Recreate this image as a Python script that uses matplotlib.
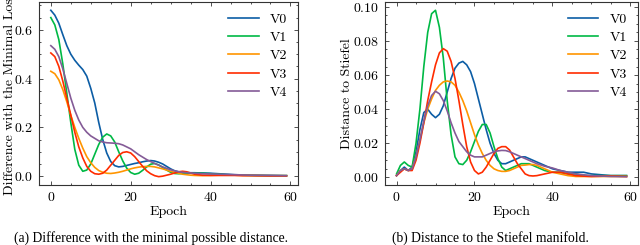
import matplotlib
matplotlib.use("Agg")
import matplotlib.pyplot as plt
from matplotlib.ticker import AutoMinorLocator

epochs = list(range(37)) + [38, 40, 42, 44, 46, 48, 50, 55, 59]
labels = ["V0", "V1", "V2", "V3", "V4"]
colors = ["#0C5DA5", "#00B945", "#FF9500", "#FF2C00", "#845B97"]

# (a) difference with the minimal loss
loss_v0 = [0.68, 0.66, 0.627, 0.58, 0.535, 0.50, 0.475, 0.455, 0.437, 0.41, 0.36, 0.30, 0.22, 0.15, 0.095,
           0.06, 0.043, 0.038, 0.04, 0.044, 0.048, 0.052, 0.055, 0.059, 0.062, 0.064, 0.062, 0.057, 0.05,
           0.04, 0.03, 0.022, 0.018, 0.016, 0.015, 0.014, 0.014, 0.013, 0.012, 0.01, 0.008, 0.006, 0.005,
           0.004, 0.003, 0.002]
loss_v1 = [0.65, 0.62, 0.56, 0.46, 0.34, 0.22, 0.11, 0.045, 0.02, 0.025, 0.05, 0.09, 0.13, 0.16, 0.173,
           0.165, 0.14, 0.10, 0.063, 0.033, 0.015, 0.008, 0.012, 0.024, 0.038, 0.049, 0.052, 0.046, 0.036,
           0.025, 0.016, 0.011, 0.01, 0.011, 0.012, 0.012, 0.012, 0.012, 0.01, 0.008, 0.006, 0.005, 0.004,
           0.003, 0.002, 0.002]
loss_v2 = [0.43, 0.42, 0.395, 0.355, 0.305, 0.25, 0.20, 0.155, 0.115, 0.08, 0.055, 0.036, 0.023, 0.016,
           0.012, 0.011, 0.013, 0.016, 0.02, 0.025, 0.03, 0.034, 0.037, 0.039, 0.04, 0.04, 0.038, 0.034,
           0.03, 0.025, 0.02, 0.016, 0.012, 0.008, 0.006, 0.004, 0.003, 0.002, 0.003, 0.004, 0.004, 0.004,
           0.003, 0.003, 0.002, 0.002]
loss_v3 = [0.505, 0.49, 0.45, 0.39, 0.32, 0.25, 0.18, 0.12, 0.075, 0.04, 0.02, 0.01, 0.008, 0.012, 0.025,
           0.045, 0.065, 0.085, 0.097, 0.1, 0.095, 0.08, 0.06, 0.04, 0.022, 0.01, 0.002, -0.002, 0.0, 0.004,
           0.008, 0.013, 0.018, 0.02, 0.018, 0.013, 0.008, 0.004, 0.003, 0.003, 0.003, 0.003, 0.002, 0.002,
           0.001, 0.001]
loss_v4 = [0.535, 0.52, 0.49, 0.44, 0.38, 0.32, 0.27, 0.23, 0.2, 0.18, 0.165, 0.155, 0.145, 0.14, 0.137,
           0.136, 0.135, 0.133, 0.128, 0.12, 0.112, 0.1, 0.088, 0.078, 0.068, 0.06, 0.052, 0.045, 0.038,
           0.032, 0.026, 0.022, 0.018, 0.016, 0.014, 0.013, 0.012, 0.01, 0.009, 0.008, 0.007, 0.006, 0.005,
           0.004, 0.003, 0.002]

# (b) distance to the Stiefel manifold
dist_v0 = [0.001, 0.004, 0.006, 0.004, 0.006, 0.015, 0.028, 0.038, 0.04, 0.037, 0.035, 0.037, 0.042, 0.05,
           0.058, 0.064, 0.067, 0.068, 0.066, 0.062, 0.055, 0.046, 0.037, 0.028, 0.02, 0.014, 0.01, 0.008,
           0.008, 0.009, 0.01, 0.011, 0.012, 0.012, 0.011, 0.01, 0.009, 0.007, 0.005, 0.004, 0.003, 0.003,
           0.003, 0.002, 0.001, 0.001]
dist_v1 = [0.002, 0.007, 0.009, 0.007, 0.006, 0.02, 0.04, 0.065, 0.085, 0.096, 0.098, 0.088, 0.07, 0.045,
           0.025, 0.012, 0.008, 0.0075, 0.01, 0.015, 0.021, 0.027, 0.031, 0.031, 0.026, 0.018, 0.011, 0.006,
           0.004, 0.005, 0.006, 0.007, 0.008, 0.008, 0.008, 0.007, 0.006, 0.004, 0.003, 0.003, 0.002, 0.002,
           0.001, 0.001, 0.001, 0.001]
dist_v2 = [0.001, 0.004, 0.005, 0.004, 0.005, 0.012, 0.022, 0.032, 0.04, 0.046, 0.051, 0.054, 0.056, 0.0565,
           0.056, 0.054, 0.05, 0.045, 0.039, 0.032, 0.025, 0.019, 0.014, 0.01, 0.007, 0.005, 0.004, 0.0035,
           0.0035, 0.004, 0.005, 0.006, 0.007, 0.0072, 0.0075, 0.0075, 0.007, 0.005, 0.003, 0.002, 0.001,
           0.0005, 0.0005, 0.0005, 0.0005, 0.0005]
dist_v3 = [0.001, 0.003, 0.005, 0.004, 0.004, 0.01, 0.02, 0.032, 0.045, 0.056, 0.066, 0.073, 0.0755, 0.074,
           0.068, 0.058, 0.045, 0.031, 0.018, 0.009, 0.004, 0.002, 0.003, 0.006, 0.01, 0.014, 0.017, 0.018,
           0.018, 0.016, 0.012, 0.008, 0.005, 0.002, 0.001, 0.0008, 0.001, 0.002, 0.003, 0.003, 0.002, 0.001,
           0.0007, 0.0005, 0.0008, 0.0005]
dist_v4 = [0.001, 0.004, 0.005, 0.004, 0.005, 0.012, 0.022, 0.033, 0.042, 0.048, 0.0505, 0.049, 0.045, 0.039,
           0.032, 0.026, 0.021, 0.018, 0.015, 0.013, 0.012, 0.012, 0.012, 0.013, 0.014, 0.015, 0.0155, 0.0158,
           0.0157, 0.015, 0.014, 0.013, 0.012, 0.011, 0.01, 0.009, 0.008, 0.0065, 0.0055, 0.004, 0.003, 0.002,
           0.0015, 0.001, 0.0005, 0.0004]

loss_series = [loss_v0, loss_v1, loss_v2, loss_v3, loss_v4]
dist_series = [dist_v0, dist_v1, dist_v2, dist_v3, dist_v4]

# science-like look
plt.rcParams["font.family"] = "serif"
plt.rcParams["font.serif"] = ["cmr10"]
plt.rcParams["axes.formatter.use_mathtext"] = True
plt.rcParams["mathtext.fontset"] = "cm"
plt.rcParams["font.size"] = 10

fig = plt.figure(figsize=(6.4, 2.45), dpi=100)
ax1 = fig.add_axes([0.061, 0.245, 0.405, 0.747])
ax2 = fig.add_axes([0.6016, 0.245, 0.3953, 0.747])


def style_axes(ax):
    ax.tick_params(which="both", direction="in", top=True, right=True, colors="#333333",
                   labelcolor="black", pad=4)
    ax.tick_params(which="major", length=3, width=0.6)
    ax.tick_params(which="minor", length=1.5, width=0.6)
    ax.xaxis.set_minor_locator(AutoMinorLocator())
    ax.yaxis.set_minor_locator(AutoMinorLocator())
    for s in ax.spines.values():
        s.set_linewidth(0.8)
        s.set_color("#333333")
    ax.set_xticks([0, 20, 40, 60])
    ax.set_xlabel("Epoch", labelpad=2)
    ax.legend(loc="upper right", frameon=False, handlelength=2.2, labelspacing=0.4,
              borderaxespad=0.4)


for ys, lab, c in zip(loss_series, labels, colors):
    ax1.plot(epochs, ys, color=c, lw=1.2, label=lab)
for ys, lab, c in zip(dist_series, labels, colors):
    ax2.plot(epochs, ys, color=c, lw=1.2, label=lab)

ax1.set_ylabel("Difference with the Minimal Loss")
ax2.set_ylabel("Distance to Stiefel")
style_axes(ax1)
style_axes(ax2)
ax1.set_yticks([0.0, 0.2, 0.4, 0.6])
ax1.yaxis.set_label_coords(-0.09, 0.5)
ax2.yaxis.set_label_coords(-0.125, 0.5)

# captions under each panel
fig.text(0.236, 0.028, "(a) Difference with the minimal possible distance.",
         ha="center", va="center", family="Liberation Serif", fontsize=9.8)
fig.text(0.766, 0.028, "(b) Distance to the Stiefel manifold.",
         ha="center", va="center", family="Liberation Serif", fontsize=9.8)

fig.savefig("out.png", dpi=100)
